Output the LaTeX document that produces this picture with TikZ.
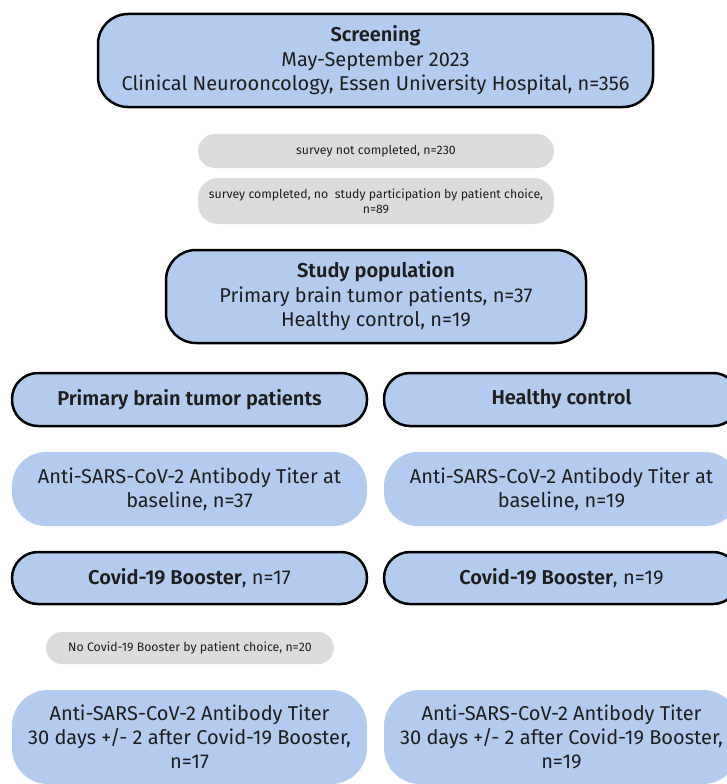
\documentclass[tikz,border=0pt]{standalone}
\usepackage{fontspec}
\setmainfont{Fira Sans}[BoldFont={Fira Sans SemiBold}]
\definecolor{boxblue}{HTML}{B3CBEF}
\definecolor{boxgray}{HTML}{DCDCDC}
\definecolor{txt}{HTML}{1E1E1E}
\begin{document}
\begin{tikzpicture}[x=1pt,y=-1pt,
  bluebox/.style={draw=black, line width=2.5pt, fill=boxblue, align=center, inner sep=0pt,
    text=txt, font=\fontsize{20}{24.5}\selectfont},
  plainbox/.style={fill=boxblue, align=center, inner sep=0pt,
    text=txt, font=\fontsize{20}{24}\selectfont},
  graybox/.style={fill=boxgray, align=center, inner sep=0pt,
    text=txt, font=\fontsize{12.3}{15}\selectfont}]
\clip (0,0) rectangle (727,784);
\fill[white] (0,0) rectangle (727,784);
\node[bluebox, minimum width=555pt, minimum height=93pt, rounded corners=30pt] (screen) at (375.5,60.5)
  {\textbf{Screening}\\May-September 2023\\Clinical Neurooncology, Essen University Hospital, n=356};
\node[graybox, minimum width=356pt, minimum height=34pt, rounded corners=17pt] (g1) at (376,151)
  {survey not completed, n=230};
\node[graybox, minimum width=356pt, minimum height=46pt, rounded corners=20pt] (g2) at (376,201)
  {survey completed, no\ \ study participation by patient choice,\\n=89};
\node[bluebox, minimum width=420pt, minimum height=93pt, rounded corners=30pt] (study) at (376,296.5)
  {\textbf{Study population}\\Primary brain tumor patients, n=37\\Healthy control, n=19};
\node[bluebox, minimum width=355pt, minimum height=53pt, rounded corners=26pt] (pbt) at (189.5,399.5)
  {\textbf{Primary brain tumor patients}};
\node[bluebox, minimum width=355pt, minimum height=53pt, rounded corners=26pt] (hc) at (561.5,399.5)
  {\textbf{Healthy control}};
\node[plainbox, minimum width=355pt, minimum height=74pt, rounded corners=34pt] (base1) at (189.5,489)
  {Anti-SARS-CoV-2 Antibody Titer at\\baseline, n=37};
\node[plainbox, minimum width=355pt, minimum height=74pt, rounded corners=34pt] (base2) at (561.5,489)
  {Anti-SARS-CoV-2 Antibody Titer at\\baseline, n=19};
\node[bluebox, minimum width=355pt, minimum height=52pt, rounded corners=26pt] (boost1) at (189.5,578)
  {\textbf{Covid-19 Booster}, n=17};
\node[bluebox, minimum width=355pt, minimum height=52pt, rounded corners=26pt] (boost2) at (561.5,578)
  {\textbf{Covid-19 Booster}, n=19};
\node[graybox, minimum width=288pt, minimum height=32pt, rounded corners=16pt] (nob) at (190,648)
  {No Covid-19 Booster by patient choice, n=20};
\node[plainbox, minimum width=355pt, minimum height=94pt, rounded corners=36pt] (fin1) at (189.5,737)
  {Anti-SARS-CoV-2 Antibody Titer\\30 days +/- 2 after Covid-19 Booster,\\n=17};
\node[plainbox, minimum width=355pt, minimum height=94pt, rounded corners=36pt] (fin2) at (561.5,737)
  {Anti-SARS-CoV-2 Antibody Titer\\30 days +/- 2 after Covid-19 Booster,\\n=19};
\end{tikzpicture}
\end{document}
